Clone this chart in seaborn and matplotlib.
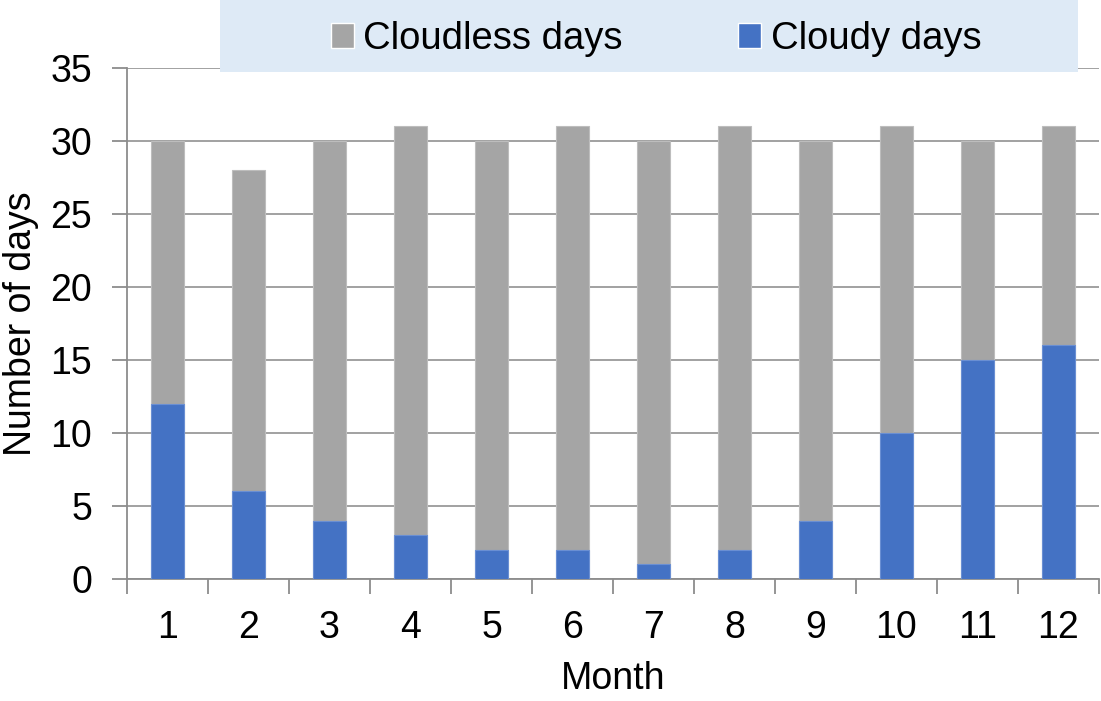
import numpy as np
import pandas as pd
import seaborn as sns
import matplotlib.pyplot as plt
from matplotlib.patches import Patch, Rectangle

months = [1, 2, 3, 4, 5, 6, 7, 8, 9, 10, 11, 12]
cloudless = [18, 22, 26, 28, 28, 29, 29, 29, 26, 21, 15, 15]
cloudy = [12, 6, 4, 3, 2, 2, 1, 2, 4, 10, 15, 16]

grey = '#A5A5A5'
blue = '#4472C4'

df = pd.DataFrame({'Month': months, 'Cloudless': cloudless, 'Cloudy': cloudy})
df['Total'] = df['Cloudless'] + df['Cloudy']

sns.set_style('white')
plt.rcParams['font.family'] = ['Liberation Sans', 'DejaVu Sans']
plt.rcParams['text.color'] = 'black'
plt.rcParams['axes.labelcolor'] = 'black'
plt.rcParams['xtick.color'] = 'black'
plt.rcParams['ytick.color'] = 'black'

fig = plt.figure(figsize=(11.01, 7.01), dpi=100, facecolor='white')
ax = fig.add_axes([127 / 1101, 122 / 701, 972 / 1101, 511 / 701])

# total height in grey, cloudy part drawn over it in blue
sns.barplot(data=df, x='Month', y='Total', color=grey, width=0.41, saturation=1,
            linewidth=0.8, edgecolor='#BDBDBD', ax=ax, zorder=2)
sns.barplot(data=df, x='Month', y='Cloudy', color=blue, width=0.41, saturation=1,
            linewidth=0.8, edgecolor='#6A8FD3', ax=ax, zorder=3)

ax.set_ylim(0, 35)
ax.set_xlim(-0.5, 11.5)
ax.set_yticks(range(0, 36, 5))
ax.yaxis.grid(True, color='#9A9A9A', linewidth=1.3, zorder=0)
ax.set_axisbelow(True)
for s in ['top', 'right']:
    ax.spines[s].set_visible(False)
for s in ['left', 'bottom']:
    ax.spines[s].set_color('#8C8C8C')
    ax.spines[s].set_linewidth(1.3)

# x ticks between categories, labels at centres
ax.set_xticks(np.arange(-0.5, 12, 1))
ax.set_xticklabels([])
ax.set_xticks(range(12), minor=True)
ax.set_xticklabels([str(m) for m in months], minor=True, fontsize=27)
ax.tick_params(axis='x', which='major', bottom=True, direction='out', length=11, width=1.3, color='#8C8C8C')
ax.tick_params(axis='x', which='minor', bottom=True, length=0, pad=22)
ax.tick_params(axis='y', left=True, direction='out', length=11, width=1.3, color='#8C8C8C',
               labelsize=27, pad=14)

ax.set_xlabel('Month', fontsize=27, labelpad=11)
ax.set_ylabel('Number of days', fontsize=27, labelpad=8)

fig.patches.append(Rectangle((220 / 1101, 1 - 72 / 701), 858 / 1101, 72 / 701,
                             transform=fig.transFigure, facecolor='#DEEAF6',
                             edgecolor='none', zorder=5))
handles = [Patch(facecolor=grey, label='Cloudless days'),
           Patch(facecolor=blue, label='Cloudy days')]
leg = fig.legend(handles=handles, loc='center', bbox_to_anchor=(656 / 1101, 1 - 39 / 701),
                 ncol=2, frameon=False, fontsize=27.5, handlelength=0.6, handleheight=0.6,
                 handletextpad=0.25, columnspacing=3.02)
leg.set_zorder(6)

fig.savefig('out.png', dpi=100, facecolor='white')
